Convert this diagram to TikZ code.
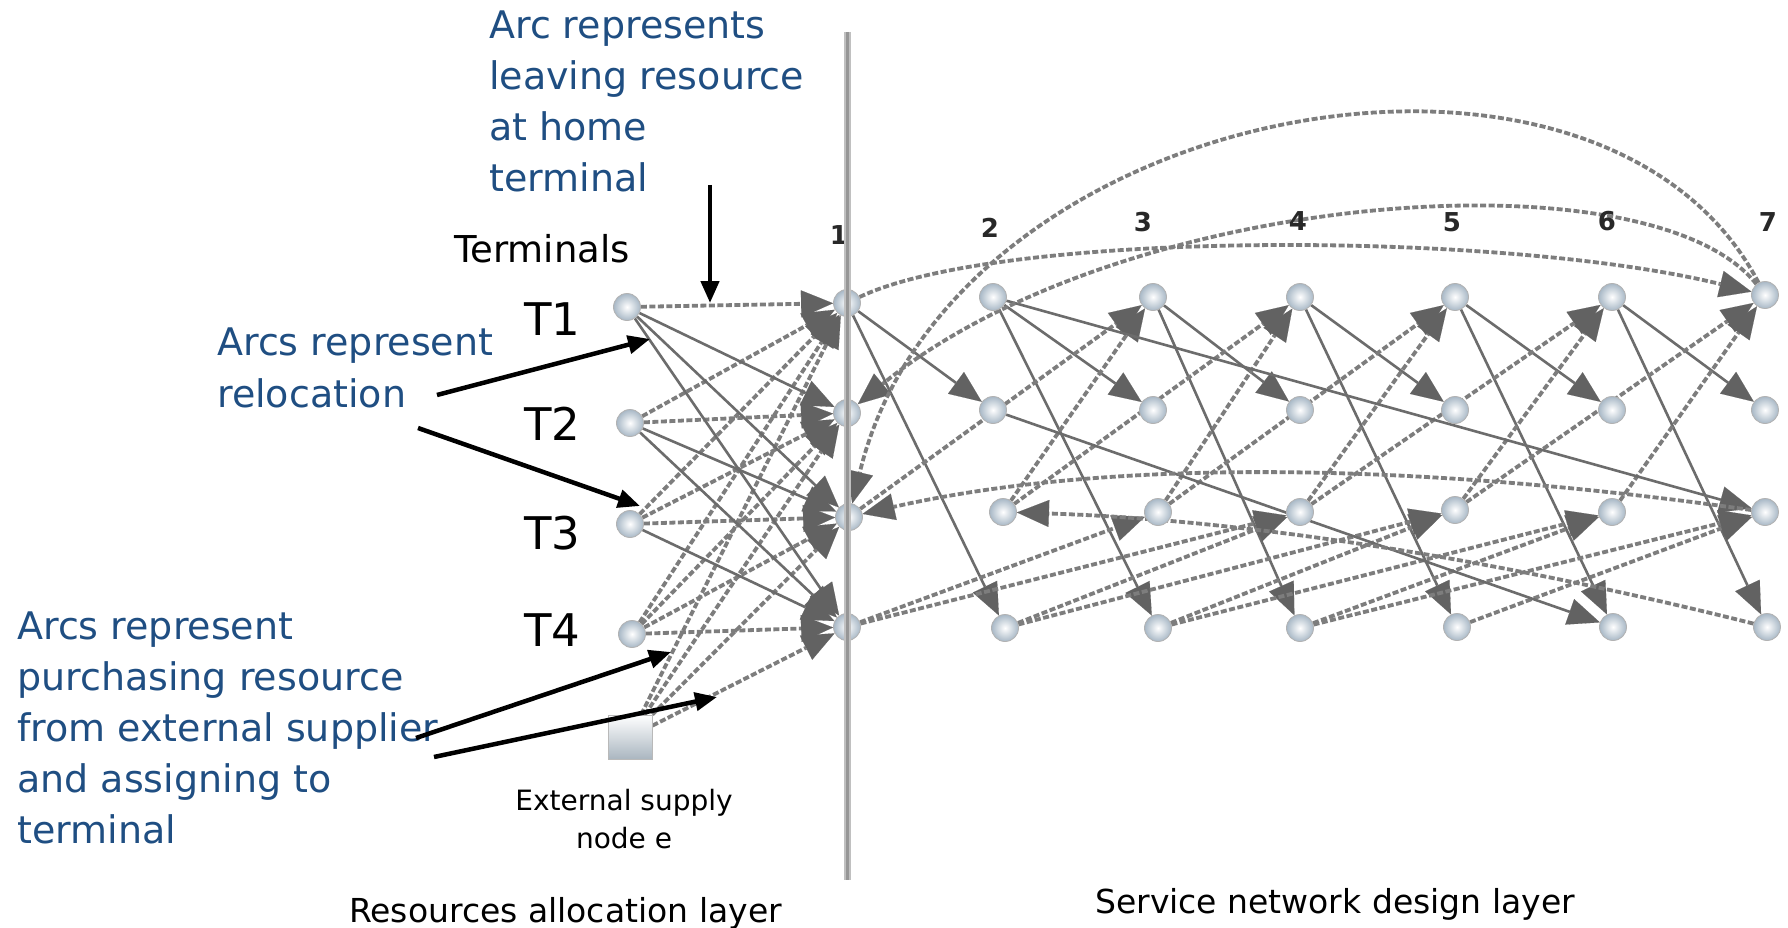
\documentclass[tikz,border=0pt]{standalone}
\usepackage{fontspec}
\setmainfont{DejaVu Sans}
\usetikzlibrary{arrows.meta}
\definecolor{blueT}{RGB}{31,78,130}
\definecolor{nodecol}{RGB}{168,184,198}
\definecolor{dashcol}{RGB}{125,125,125}
\definecolor{solcol}{RGB}{108,108,108}
\definecolor{headcol}{RGB}{98,98,98}
\definecolor{numcol}{RGB}{40,40,40}
\definecolor{barcol}{RGB}{150,150,150}
\pgfdeclarelayer{bg}\pgfdeclarelayer{edges}\pgfdeclarelayer{top}
\pgfsetlayers{bg,edges,main,top}
\tikzset{
  ball/.style={circle, minimum size=27pt, inner sep=0pt, inner color=white, outer color=nodecol, draw=gray!60, line width=0.8pt},
  supply/.style={rectangle, minimum size=44pt, inner sep=0pt, top color=white, bottom color={rgb,255:red,170;green,182;blue,192}, draw=gray!55, line width=1pt},
  gtip/.style={-{Triangle[length=32pt,width=27pt,line width=0.1pt,fill=headcol,color=headcol]}},
  dsh/.style={draw=dashcol, line width=3.8pt, dash pattern=on 6pt off 2.5pt, gtip},
  sol/.style={draw=solcol, line width=2.6pt, gtip},
  ann/.style={draw=black, line width=4.5pt, -{Triangle[length=22pt,width=18pt]}},
  bluetxt/.style={anchor=base west, inner sep=0pt, text=blueT, font=\fontsize{38}{46}\selectfont},
  blacktxt/.style={anchor=base west, inner sep=0pt, text=black, font=\fontsize{37}{44}\selectfont},
  tlab/.style={anchor=base west, inner sep=0pt, text=black, font=\fontsize{45}{54}\selectfont},
  small/.style={anchor=base, inner sep=0pt, text=black, font=\fontsize{28}{34}\selectfont},
  layer/.style={anchor=base west, inner sep=0pt, text=black, font=\fontsize{33}{40}\selectfont},
  colnum/.style={anchor=base, inner sep=0pt, text=numcol, font=\fontsize{26}{30}\selectfont\bfseries}
}
\begin{document}
\begin{tikzpicture}[x=1pt,y=1pt]
\begin{pgfonlayer}{bg}
\fill[white] (0,0) rectangle (1788,-928);
\end{pgfonlayer}
\path[use as bounding box] (0,0) rectangle (1788,-928);

% terminal nodes and supply node
\node[ball] (t1) at (627,-307) {};
\node[ball] (t2) at (630,-423) {};
\node[ball] (t3) at (630,-524) {};
\node[ball] (t4) at (632,-634) {};
\node[supply] (e) at (630,-737) {};

% time-space nodes n<col><row>
\node[ball] (n11) at (847,-303) {};
\node[ball] (n12) at (847,-413) {};
\node[ball] (n13) at (849,-517) {};
\node[ball] (n14) at (847,-627) {};
\node[ball] (n21) at (993,-297) {};
\node[ball] (n22) at (993,-410) {};
\node[ball] (n23) at (1003,-512) {};
\node[ball] (n24) at (1005,-628) {};
\node[ball] (n31) at (1153,-297) {};
\node[ball] (n32) at (1153,-410) {};
\node[ball] (n33) at (1158,-512) {};
\node[ball] (n34) at (1158,-628) {};
\node[ball] (n41) at (1300,-297) {};
\node[ball] (n42) at (1300,-410) {};
\node[ball] (n43) at (1300,-512) {};
\node[ball] (n44) at (1300,-628) {};
\node[ball] (n51) at (1455,-297) {};
\node[ball] (n52) at (1455,-410) {};
\node[ball] (n53) at (1455,-510) {};
\node[ball] (n54) at (1457,-627) {};
\node[ball] (n61) at (1612,-297) {};
\node[ball] (n62) at (1612,-410) {};
\node[ball] (n63) at (1612,-512) {};
\node[ball] (n64) at (1613,-627) {};
\node[ball] (n71) at (1765,-295) {};
\node[ball] (n72) at (1765,-410) {};
\node[ball] (n73) at (1765,-512) {};
\node[ball] (n74) at (1767,-627) {};

\begin{pgfonlayer}{edges}
% resource allocation layer
\foreach \a/\b in {t1/n11,t2/n11,t2/n12,t3/n11,t3/n12,t3/n13,t4/n11,t4/n12,t4/n13,t4/n14,e/n11,e/n12,e/n13,e/n14}
  \draw[dsh] (\a) -- (\b);
\foreach \a/\b in {t1/n12,t1/n13,t1/n14,t2/n13,t2/n14,t3/n14}
  \draw[sol] (\a) -- (\b);
% service network design layer
\foreach \c [evaluate=\c as \d using int(\c+1)] in {1,...,6} {
  \draw[sol] (n\c1) -- (n\d2);
  \draw[sol] (n\c1) -- (n\d4);
}
\foreach \c [evaluate=\c as \d using int(\c+1)] in {2,...,6}
  \draw[dsh] (n\c3) -- (n\d1);
\foreach \c [evaluate=\c as \d using int(\c+2)] in {1,...,5} {
  \draw[dsh] (n\c3) -- (n\d1);
  \draw[dsh] (n\c4) -- (n\d3);
}
\foreach \c [evaluate=\c as \d using int(\c+3)] in {1,...,4}
  \draw[dsh] (n\c4) -- (n\d3);
\draw[sol] (n21) -- (n73);
\draw[sol] (n22) -- (n64);
\draw[dsh] (n11) .. controls (1000,-230) and (1500,-230) .. (n71);
\draw[dsh] (n71) .. controls (1650,-150) and (1120,-190) .. (n12);
\draw[dsh] (n71) .. controls (1600,20) and (950,-100) .. (n13);
\draw[dsh] (n73) .. controls (1400,-460) and (1100,-460) .. (n13);
\draw[dsh] (n74) .. controls (1500,-560) and (1250,-520) .. (n23);
\end{pgfonlayer}

% layer divider
\begin{pgfonlayer}{top}
\draw[line width=7pt, barcol!60] (847,-32) -- (847,-880);
\draw[line width=3pt, barcol] (847,-32) -- (847,-880);
\end{pgfonlayer}

% column numbers
\node[colnum] (c1) at (839,-244) {1};
\node[colnum] (c2) at (990,-237) {2};
\node[colnum] (c3) at (1143,-232) {3};
\node[colnum] (c4) at (1298,-230) {4};
\node[colnum] (c5) at (1452,-232) {5};
\node[colnum] (c6) at (1607,-230) {6};
\node[colnum] (c7) at (1768,-232) {7};

% texts
\node[bluetxt] (b1) at (489,-39) {Arc represents};
\node[bluetxt] (b2) at (489,-90) {leaving resource};
\node[bluetxt] (b3) at (489,-141) {at home};
\node[bluetxt] (b4) at (489,-192) {terminal};
\node[blacktxt] (term) at (454,-262) {Terminals};
\node[tlab] (l1) at (524,-335) {T1};
\node[tlab] (l2) at (524,-440) {T2};
\node[tlab] (l3) at (524,-549) {T3};
\node[tlab] (l4) at (524,-646) {T4};
\node[bluetxt] (r1) at (217,-355) {Arcs represent};
\node[bluetxt] (r2) at (217,-407) {relocation};
\node[bluetxt] (p1) at (17,-639) {Arcs represent};
\node[bluetxt] (p2) at (17,-690) {purchasing resource};
\node[bluetxt] (p3) at (17,-741) {from external supplier};
\node[bluetxt] (p4) at (17,-792) {and assigning to};
\node[bluetxt] (p5) at (17,-843) {terminal};
\node[small] (s1) at (624,-810) {External supply};
\node[small] (s2) at (624,-848) {node e};
\node[layer] (lay1) at (349,-922) {Resources allocation layer};
\node[layer] (lay2) at (1095,-913) {Service network design layer};

% annotation arrows
\coordinate (a1s) at (710,-185); \coordinate (a1e) at (710,-303);
\coordinate (a2s) at (437,-395); \coordinate (a2e) at (650,-339);
\coordinate (a3s) at (418,-428); \coordinate (a3e) at (640,-506);
\coordinate (a4s) at (416,-738); \coordinate (a4e) at (671,-652);
\coordinate (a5s) at (434,-757); \coordinate (a5e) at (717,-697);
\begin{pgfonlayer}{top}
\draw[ann] (a1s) -- (a1e);
\draw[ann] (a2s) -- (a2e);
\draw[ann] (a3s) -- (a3e);
\draw[ann] (a4s) -- (a4e);
\draw[ann] (a5s) -- (a5e);
\end{pgfonlayer}
\end{tikzpicture}
\end{document}
